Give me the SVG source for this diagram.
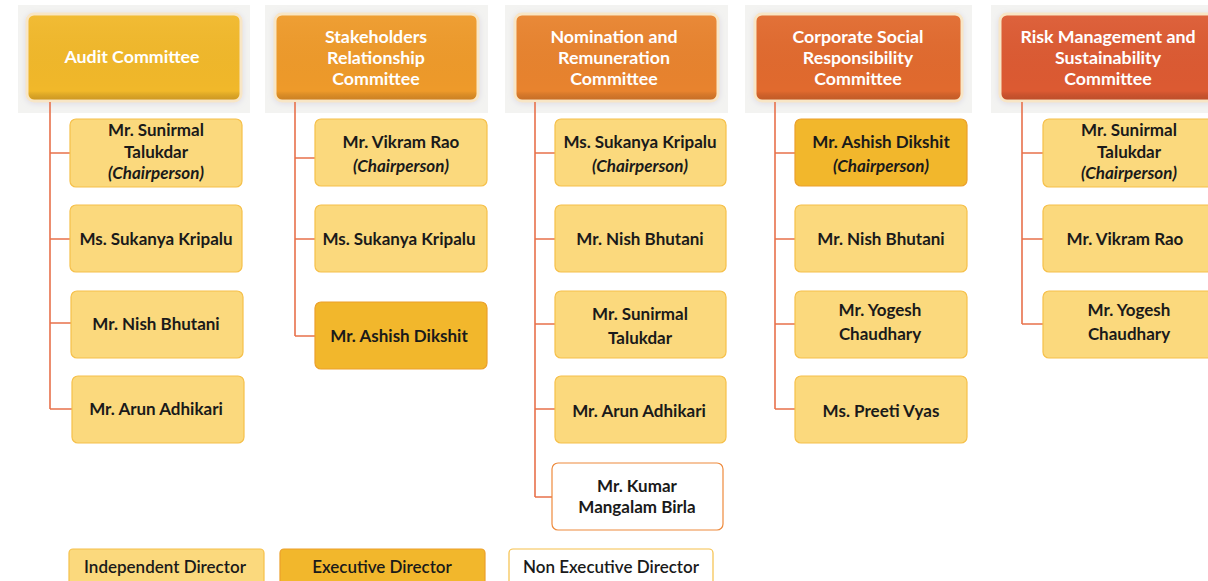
<svg xmlns="http://www.w3.org/2000/svg" width="1208" height="581" viewBox="0 0 1208 581">
<defs>
<style>
.bg{fill:#F3F3F1}
.hd{stroke:#F8E6C6;stroke-width:3}
.shade{fill:url(#shade)}
.ht{font-family:Lato,"Open Sans",sans-serif;font-weight:700;font-size:17.8px;fill:#FFFFFF;text-anchor:middle}
.ind{fill:#FBD97D;stroke:#F6C04A;stroke-width:1.2}
.exe{fill:#F2B72C;stroke:#EBA02A;stroke-width:1.2}
.non{fill:#FFFFFF;stroke:#EE8A3C;stroke-width:1.2}
.nt{font-family:Lato,"Open Sans",sans-serif;font-weight:700;font-size:17px;fill:#1A1A1A;text-anchor:middle}
.it{font-style:italic}
.cn{fill:none;stroke:#E8714B;stroke-width:1.6}
</style>
<linearGradient id="shade" x1="0" y1="0" x2="0" y2="1">
<stop offset="0" stop-color="#FFFFFF" stop-opacity="0.05"/>
<stop offset="0.9" stop-color="#000000" stop-opacity="0"/>
<stop offset="1" stop-color="#5A2A10" stop-opacity="0.22"/>
</linearGradient>
<filter id="ds" x="-10%" y="-20%" width="120%" height="140%">
<feGaussianBlur in="SourceAlpha" stdDeviation="3"/>
<feOffset dy="1"/>
<feComponentTransfer><feFuncA type="linear" slope="0.35"/></feComponentTransfer>
<feColorMatrix type="matrix" values="0 0 0 0 0.45 0 0 0 0 0.4 0 0 0 0 0.6 0 0 0 1 0"/>
<feMerge><feMergeNode/><feMergeNode in="SourceGraphic"/></feMerge>
</filter>
</defs>
<rect width="1208" height="581" fill="#FFFFFF"/>

<g id="h-audit">
<rect class="bg" x="18" y="5" width="232" height="108"/>
<rect class="hd" x="27" y="14" width="214" height="87" rx="7" fill="#F1B82B" filter="url(#ds)"/>
<rect class="shade" x="28.5" y="15.5" width="211" height="84" rx="6"/>
<text class="ht" x="132" y="63">Audit Committee</text>
</g>
<g id="h-stake">
<rect class="bg" x="265" y="5" width="223" height="108"/>
<rect class="hd" x="275" y="14" width="203" height="87" rx="7" fill="#EE9A2B" filter="url(#ds)"/>
<rect class="shade" x="276.5" y="15.5" width="200" height="84" rx="6"/>
<text class="ht" x="376" y="43">Stakeholders</text>
<text class="ht" x="376" y="64">Relationship</text>
<text class="ht" x="376" y="85">Committee</text>
</g>
<g id="h-nom">
<rect class="bg" x="505" y="5" width="223" height="108"/>
<rect class="hd" x="515" y="14" width="203" height="87" rx="7" fill="#E8832E" filter="url(#ds)"/>
<rect class="shade" x="516.5" y="15.5" width="200" height="84" rx="6"/>
<text class="ht" x="614" y="43">Nomination and</text>
<text class="ht" x="614" y="64">Remuneration</text>
<text class="ht" x="614" y="85">Committee</text>
</g>
<g id="h-csr">
<rect class="bg" x="745" y="5" width="227" height="108"/>
<rect class="hd" x="755" y="14" width="207" height="87" rx="7" fill="#E16A2D" filter="url(#ds)"/>
<rect class="shade" x="756.5" y="15.5" width="204" height="84" rx="6"/>
<text class="ht" x="858" y="43">Corporate Social</text>
<text class="ht" x="858" y="64">Responsibility</text>
<text class="ht" x="858" y="85">Committee</text>
</g>
<g id="h-risk">
<rect class="bg" x="991" y="5" width="230" height="108"/>
<rect class="hd" x="1000" y="14" width="216" height="87" rx="7" fill="#DC5A30" filter="url(#ds)"/>
<rect class="shade" x="1001.5" y="15.5" width="213" height="84" rx="6"/>
<text class="ht" x="1108" y="43">Risk Management and</text>
<text class="ht" x="1108" y="64">Sustainability</text>
<text class="ht" x="1108" y="85">Committee</text>
</g>

<g id="connectors">
<path class="cn" d="M50 102V409M50 153H70M50 239H70M50 323H71M50 409H72"/>
<path class="cn" d="M295 102V336M295 158H315M295 239H315M295 336H315"/>
<path class="cn" d="M535 102V497M535 153H555M535 239H555M535 324H555M535 409H555M535 497H552"/>
<path class="cn" d="M775 102V409M775 153H795M775 239H795M775 324H795M775 409H795"/>
<path class="cn" d="M1022 102V324M1022 153H1043M1022 239H1043M1022 324H1043"/>
</g>

<g id="a1"><rect class="ind" x="70" y="119" width="172" height="68" rx="6"/>
<text class="nt" x="156" y="136">Mr. Sunirmal</text><text class="nt" x="156" y="158">Talukdar</text><text class="nt it" x="156" y="179">(Chairperson)</text></g>
<g id="a2"><rect class="ind" x="70" y="205" width="172" height="67" rx="6"/>
<text class="nt" x="156" y="245">Ms. Sukanya Kripalu</text></g>
<g id="a3"><rect class="ind" x="71" y="291" width="172" height="67" rx="6"/>
<text class="nt" x="156" y="330">Mr. Nish Bhutani</text></g>
<g id="a4"><rect class="ind" x="72" y="376" width="172" height="67" rx="6"/>
<text class="nt" x="156" y="415">Mr. Arun Adhikari</text></g>

<g id="b1"><rect class="ind" x="315" y="119" width="172" height="67" rx="6"/>
<text class="nt" x="401" y="148">Mr. Vikram Rao</text><text class="nt it" x="401" y="172">(Chairperson)</text></g>
<g id="b2"><rect class="ind" x="315" y="205" width="172" height="67" rx="6"/>
<text class="nt" x="399" y="245">Ms. Sukanya Kripalu</text></g>
<g id="b3"><rect class="exe" x="315" y="302" width="172" height="67" rx="6"/>
<text class="nt" x="399" y="342">Mr. Ashish Dikshit</text></g>

<g id="c1"><rect class="ind" x="555" y="119" width="171" height="67" rx="6"/>
<text class="nt" x="640" y="148">Ms. Sukanya Kripalu</text><text class="nt it" x="640" y="172">(Chairperson)</text></g>
<g id="c2"><rect class="ind" x="555" y="205" width="171" height="67" rx="6"/>
<text class="nt" x="640" y="245">Mr. Nish Bhutani</text></g>
<g id="c3"><rect class="ind" x="555" y="291" width="171" height="67" rx="6"/>
<text class="nt" x="640" y="320">Mr. Sunirmal</text><text class="nt" x="640" y="344">Talukdar</text></g>
<g id="c4"><rect class="ind" x="555" y="376" width="171" height="67" rx="6"/>
<text class="nt" x="639" y="417">Mr. Arun Adhikari</text></g>
<g id="c5"><rect class="non" x="552" y="463" width="171" height="67" rx="6"/>
<text class="nt" x="637" y="492">Mr. Kumar</text><text class="nt" x="637" y="513">Mangalam Birla</text></g>

<g id="d1"><rect class="exe" x="795" y="119" width="172" height="67" rx="6"/>
<text class="nt" x="881" y="148">Mr. Ashish Dikshit</text><text class="nt it" x="881" y="172">(Chairperson)</text></g>
<g id="d2"><rect class="ind" x="795" y="205" width="172" height="67" rx="6"/>
<text class="nt" x="881" y="245">Mr. Nish Bhutani</text></g>
<g id="d3"><rect class="ind" x="795" y="291" width="172" height="67" rx="6"/>
<text class="nt" x="880" y="316">Mr. Yogesh</text><text class="nt" x="880" y="340">Chaudhary</text></g>
<g id="d4"><rect class="ind" x="795" y="376" width="172" height="67" rx="6"/>
<text class="nt" x="881" y="417">Ms. Preeti Vyas</text></g>

<g id="e1"><rect class="ind" x="1043" y="119" width="172" height="68" rx="6"/>
<text class="nt" x="1129" y="136">Mr. Sunirmal</text><text class="nt" x="1129" y="158">Talukdar</text><text class="nt it" x="1129" y="179">(Chairperson)</text></g>
<g id="e2"><rect class="ind" x="1043" y="205" width="172" height="67" rx="6"/>
<text class="nt" x="1125" y="245">Mr. Vikram Rao</text></g>
<g id="e3"><rect class="ind" x="1043" y="291" width="172" height="67" rx="6"/>
<text class="nt" x="1129" y="316">Mr. Yogesh</text><text class="nt" x="1129" y="340">Chaudhary</text></g>

<g id="legend">
<rect class="ind" x="69" y="549" width="195" height="40" rx="4"/>
<text class="nt" x="165" y="573" style="font-weight:600">Independent Director</text>
<rect class="exe" x="280" y="549" width="205" height="40" rx="4"/>
<text class="nt" x="382" y="573" style="font-weight:600">Executive Director</text>
<rect class="non" x="509" y="549" width="204" height="40" rx="4" style="stroke:#F6C04A"/>
<text class="nt" x="611" y="573" style="font-weight:600">Non Executive Director</text>
</g>
</svg>
